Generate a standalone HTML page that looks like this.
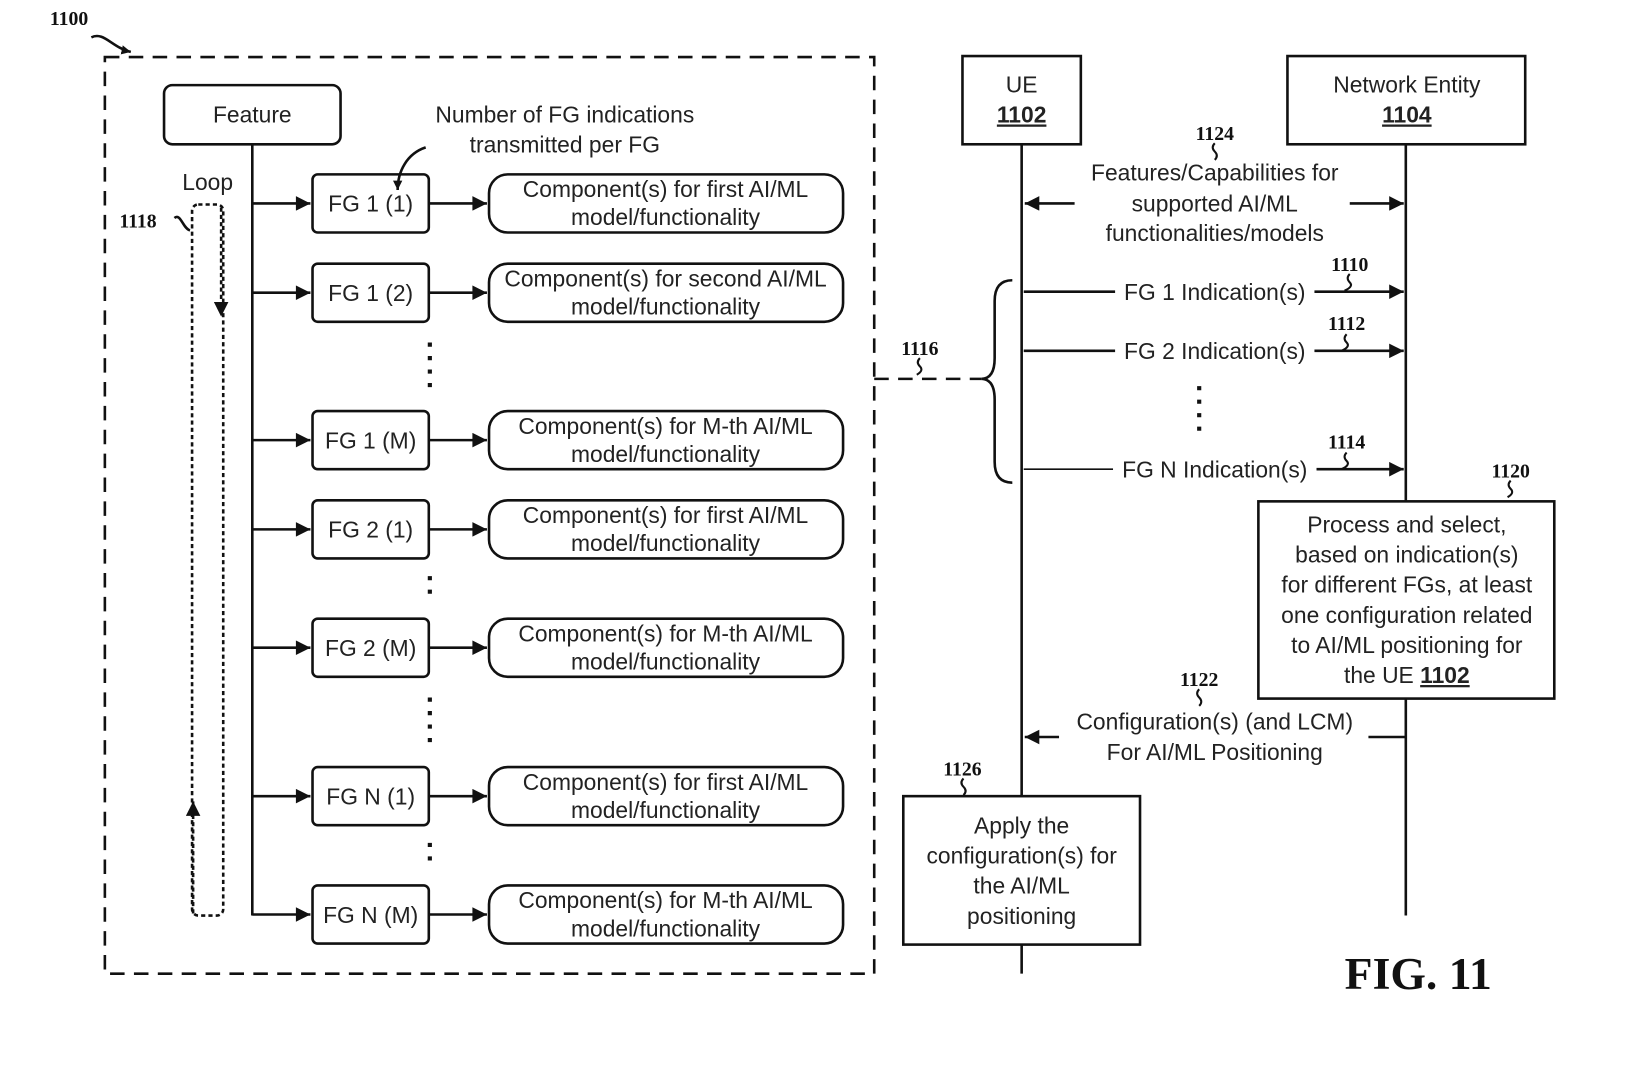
<!DOCTYPE html>
<html><head><meta charset="utf-8"><style>html,body{margin:0;padding:0;background:#fff;width:1628px;height:1065px;overflow:hidden}
text{font-family:"Liberation Sans",sans-serif;font-size:22px;fill:#222}
.lb{font-family:"Liberation Serif",serif;font-weight:bold;font-size:19px;fill:#111}
</style></head><body>
<svg width="1628" height="1065" viewBox="0 0 1568 1026" preserveAspectRatio="none" xmlns="http://www.w3.org/2000/svg">
<defs><marker id="a" viewBox="0 0 10 10" refX="10" refY="5" markerWidth="9" markerHeight="9" markerUnits="userSpaceOnUse" orient="auto"><path d="M0,0L10,5L0,10z" fill="#111"/></marker>
<marker id="b" viewBox="0 0 10 10" refX="10" refY="5" markerWidth="20" markerHeight="14" markerUnits="userSpaceOnUse" orient="auto"><path d="M0,0L10,5L0,10z" fill="#111"/></marker></defs>
<g stroke="#111" stroke-width="2.5" fill="none">
<rect x="101" y="55" width="741" height="883" stroke-dasharray="14,9"/>
<rect x="158" y="82" width="170" height="57" rx="8"/>
<line x1="243" y1="139" x2="243" y2="882"/>
<rect x="185" y="197" width="30" height="685" rx="6" stroke-dasharray="4,3"/>
<line x1="213" y1="200" x2="213" y2="305" marker-end="url(#b)" stroke-dasharray="4,3"/>
<line x1="186" y1="880" x2="186" y2="772" marker-end="url(#b)" stroke-dasharray="4,3"/>
<path d="M88,36 C100,30 108,46 126,50" marker-end="url(#a)"/>
<path d="M168,210 C174,205 176,220 183,222"/>
<path d="M410,142 C392,148 383,165 383,183" marker-end="url(#a)"/>
<g>
<rect x="301" y="168" width="112" height="56" rx="5"/><rect x="471" y="168" width="341" height="56" rx="18"/>
<rect x="301" y="254" width="112" height="56" rx="5"/><rect x="471" y="254" width="341" height="56" rx="18"/>
<rect x="301" y="396" width="112" height="56" rx="5"/><rect x="471" y="396" width="341" height="56" rx="18"/>
<rect x="301" y="482" width="112" height="56" rx="5"/><rect x="471" y="482" width="341" height="56" rx="18"/>
<rect x="301" y="596" width="112" height="56" rx="5"/><rect x="471" y="596" width="341" height="56" rx="18"/>
<rect x="301" y="739" width="112" height="56" rx="5"/><rect x="471" y="739" width="341" height="56" rx="18"/>
<rect x="301" y="853" width="112" height="56" rx="5"/><rect x="471" y="853" width="341" height="56" rx="18"/>
</g>
<g marker-end="url(#b)">
<line x1="243" y1="196" x2="299" y2="196"/><line x1="413" y1="196" x2="469" y2="196"/>
<line x1="243" y1="282" x2="299" y2="282"/><line x1="413" y1="282" x2="469" y2="282"/>
<line x1="243" y1="424" x2="299" y2="424"/><line x1="413" y1="424" x2="469" y2="424"/>
<line x1="243" y1="510" x2="299" y2="510"/><line x1="413" y1="510" x2="469" y2="510"/>
<line x1="243" y1="624" x2="299" y2="624"/><line x1="413" y1="624" x2="469" y2="624"/>
<line x1="243" y1="767" x2="299" y2="767"/><line x1="413" y1="767" x2="469" y2="767"/>
<line x1="243" y1="881" x2="299" y2="881"/><line x1="413" y1="881" x2="469" y2="881"/>
</g>
<g stroke-width="4" stroke-dasharray="4,9">
<line x1="414" y1="330" x2="414" y2="378"/><line x1="414" y1="555" x2="414" y2="580"/>
<line x1="414" y1="672" x2="414" y2="720"/><line x1="414" y1="812" x2="414" y2="838"/>
<line x1="1155" y1="372" x2="1155" y2="418"/>
</g>
<rect x="927" y="54" width="114" height="85"/>
<rect x="1240" y="54" width="229" height="85"/>
<line x1="984" y1="139" x2="984" y2="938"/>
<line x1="1354" y1="139" x2="1354" y2="882"/>
<line x1="1035" y1="196" x2="987" y2="196" marker-end="url(#b)"/>
<line x1="1300" y1="196" x2="1352" y2="196" marker-end="url(#b)"/>
<line x1="986" y1="281" x2="1074" y2="281"/><line x1="1266" y1="281" x2="1352" y2="281" marker-end="url(#b)"/>
<line x1="986" y1="338" x2="1074" y2="338"/><line x1="1266" y1="338" x2="1352" y2="338" marker-end="url(#b)"/>
<line x1="986" y1="452" x2="1072" y2="452" stroke-width="1.5"/><line x1="1268" y1="452" x2="1352" y2="452" marker-end="url(#b)"/>
<path d="M975,270 Q958,270 958,290 L958,345 Q958,365 945,365 Q958,365 958,385 L958,445 Q958,465 975,465"/>
<line x1="842" y1="365" x2="945" y2="365" stroke-dasharray="14,9"/>
<rect x="1212" y="483" width="285" height="190" fill="#fff"/>
<line x1="1354" y1="710" x2="1318" y2="710"/>
<line x1="1020" y1="710" x2="987" y2="710" marker-end="url(#b)"/>
<rect x="870" y="767" width="228" height="143" fill="#fff"/>
<g stroke-width="2">
<path d="M1170,138 q-4,4 0,8 q4,4 0,8"/>
<path d="M1300,264 q-4,4 0,8 q4,4 -5,8"/>
<path d="M1297,322 q-4,4 0,8 q4,4 -5,8"/>
<path d="M1297,436 q-4,4 0,8 q4,4 -5,8"/>
<path d="M886,345 q-4,4 0,8 q4,4 -3,8"/>
<path d="M1455,463 q-4,4 0,8 q4,4 -3,8"/>
<path d="M1155,664 q-4,4 0,8 q4,4 0,8"/>
<path d="M928,750 q-4,4 0,8 q4,4 0,8"/>
</g>
</g>
<text x="243" y="118" text-anchor="middle">Feature</text>
<text x="200" y="183" text-anchor="middle">Loop</text>
<text class="lb" x="48" y="24">1100</text>
<text class="lb" x="115" y="219">1118</text>
<text x="544" y="118" text-anchor="middle">Number of FG indications</text>
<text x="544" y="147" text-anchor="middle">transmitted per FG</text>
<g text-anchor="middle">
<text x="357" y="204">FG 1 (1)</text><text x="641" y="190">Component(s) for first AI/ML</text><text x="641" y="217">model/functionality</text>
<text x="357" y="290">FG 1 (2)</text><text x="641" y="276">Component(s) for second AI/ML</text><text x="641" y="303">model/functionality</text>
<text x="357" y="432">FG 1 (M)</text><text x="641" y="418">Component(s) for M-th AI/ML</text><text x="641" y="445">model/functionality</text>
<text x="357" y="518">FG 2 (1)</text><text x="641" y="504">Component(s) for first AI/ML</text><text x="641" y="531">model/functionality</text>
<text x="357" y="632">FG 2 (M)</text><text x="641" y="618">Component(s) for M-th AI/ML</text><text x="641" y="645">model/functionality</text>
<text x="357" y="775">FG N (1)</text><text x="641" y="761">Component(s) for first AI/ML</text><text x="641" y="788">model/functionality</text>
<text x="357" y="889">FG N (M)</text><text x="641" y="875">Component(s) for M-th AI/ML</text><text x="641" y="902">model/functionality</text>
<text x="984" y="89">UE</text><text x="984" y="118" font-weight="bold" text-decoration="underline">1102</text>
<text x="1355" y="89">Network Entity</text><text x="1355" y="118" font-weight="bold" text-decoration="underline">1104</text>
<text x="1170" y="174">Features/Capabilities for</text><text x="1170" y="204">supported AI/ML</text><text x="1170" y="232">functionalities/models</text>
<text x="1170" y="289">FG 1 Indication(s)</text>
<text x="1170" y="346">FG 2 Indication(s)</text>
<text x="1170" y="460">FG N Indication(s)</text>
<text x="1355" y="513">Process and select,</text><text x="1355" y="542">based on indication(s)</text><text x="1355" y="571">for different FGs, at least</text><text x="1355" y="600">one configuration related</text><text x="1355" y="629">to AI/ML positioning for</text><text x="1355" y="658">the UE <tspan font-weight="bold" text-decoration="underline">1102</tspan></text>
<text x="1170" y="703">Configuration(s) (and LCM)</text><text x="1170" y="732">For AI/ML Positioning</text>
<text x="984" y="803">Apply the</text><text x="984" y="832">configuration(s) for</text><text x="984" y="861">the AI/ML</text><text x="984" y="890">positioning</text>
<text class="lb" x="1170" y="135">1124</text>
<text class="lb" x="1300" y="261">1110</text>
<text class="lb" x="1297" y="318">1112</text>
<text class="lb" x="1297" y="432">1114</text>
<text class="lb" x="886" y="342">1116</text>
<text class="lb" x="1455" y="460">1120</text>
<text class="lb" x="1155" y="661">1122</text>
<text class="lb" x="927" y="747">1126</text>
<text x="1366" y="953" text-anchor="middle" style="font-family:'Liberation Serif',serif;font-weight:bold;font-size:44px;fill:#111">FIG. 11</text>
</g>
</svg>
</body></html>
